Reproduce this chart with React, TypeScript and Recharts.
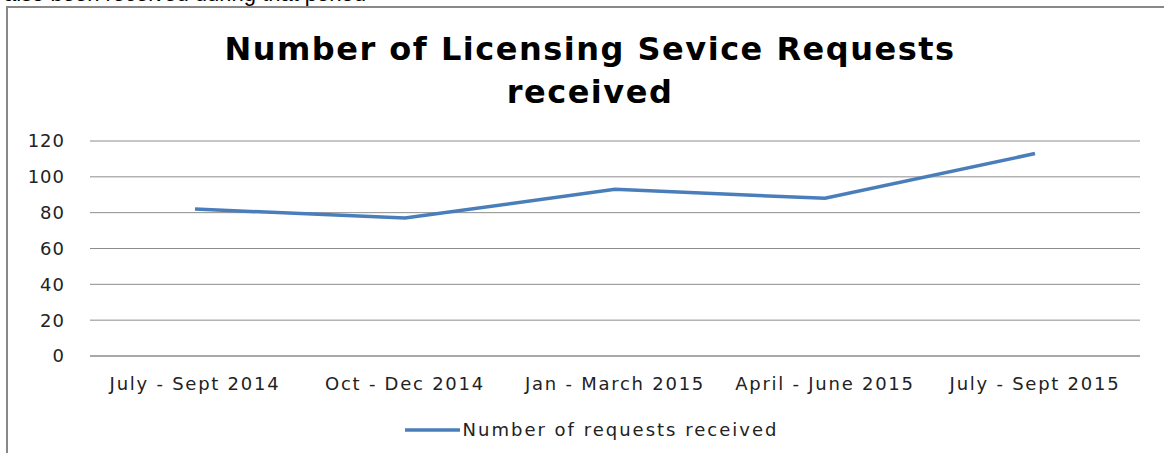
import { CartesianGrid, Legend, Line, LineChart, XAxis, YAxis } from "recharts";

const quarters = [
  "July - Sept 2014",
  "Oct - Dec 2014",
  "Jan - March 2015",
  "April - June 2015",
  "July - Sept 2015"
];
const requestsReceived = [82, 77, 93, 88, 113];
const yTicks = [0, 20, 40, 60, 80, 100, 120];
const seriesName = "Number of requests received";

const data = quarters.map((q, i) => ({ quarter: q, requests: requestsReceived[i] }));

const lineColor = "#4a7ebb";
const gridColor = "#8c8c8c";
const font = "'DejaVu Sans', sans-serif";

function LegendContent() {
  return (
    <div
      style={{
        display: "flex",
        justifyContent: "center",
        alignItems: "center",
        fontFamily: font,
        fontSize: 18,
        letterSpacing: 2,
        color: "#222",
        paddingLeft: 42
      }}
    >
      <svg width={57} height={10} style={{ marginRight: 2 }}>
        <line x1={1} y1={5} x2={56} y2={5} stroke={lineColor} strokeWidth={3.5} />
      </svg>
      <span>{seriesName}</span>
    </div>
  );
}

export default function App() {
  return (
    <div
      style={{
        position: "fixed",
        left: 0,
        top: 0,
        width: 1164,
        height: 453,
        overflow: "hidden",
        background: "#fff"
      }}
    >
      <div
        style={{
          position: "absolute",
          left: 4,
          top: -19,
          fontFamily: "'Liberation Sans', Arial, sans-serif",
          fontSize: 22,
          color: "#000",
          whiteSpace: "nowrap"
        }}
      >
        also been received during that period
      </div>
      <div
        style={{
          position: "absolute",
          left: 6,
          top: 6,
          width: 1200,
          height: 500,
          borderLeft: "2px solid #888",
          borderTop: "2px solid #888"
        }}
      />
      <div style={{ position: "absolute", left: 0, top: 0 }}>
        <LineChart
          width={1164}
          height={453}
          data={data}
          margin={{ top: 141, right: 24, bottom: 6, left: 0 }}
        >
          <text
            x={590}
            y={60}
            textAnchor="middle"
            fontFamily={font}
            fontWeight="bold"
            fontSize={32}
            letterSpacing={1.5}
            fill="#000"
          >
            Number of Licensing Sevice Requests
          </text>
          <text
            x={590}
            y={103}
            textAnchor="middle"
            fontFamily={font}
            fontWeight="bold"
            fontSize={32}
            letterSpacing={1.5}
            fill="#000"
          >
            received
          </text>
          <CartesianGrid vertical={false} stroke={gridColor} strokeDasharray="" />
          <XAxis
            dataKey="quarter"
            padding={{ left: 105, right: 105 }}
            axisLine={{ stroke: gridColor }}
            tickLine={false}
            tickMargin={15}
            height={63}
            interval={0}
            tick={{ fontFamily: font, fontSize: 18, fill: "#222", letterSpacing: 1.75 }}
          />
          <YAxis
            domain={[0, 120]}
            ticks={yTicks}
            width={90}
            axisLine={false}
            tickLine={false}
            tickSize={0}
            tickMargin={25}
            tick={{ fontFamily: font, fontSize: 18, fill: "#222", letterSpacing: 1 }}
          />
          <Legend verticalAlign="bottom" height={28} content={LegendContent} />
          <Line
            type="linear"
            dataKey="requests"
            name={seriesName}
            stroke={lineColor}
            strokeWidth={3.5}
            dot={false}
            activeDot={false}
            isAnimationActive={false}
          />
        </LineChart>
      </div>
    </div>
  );
}
